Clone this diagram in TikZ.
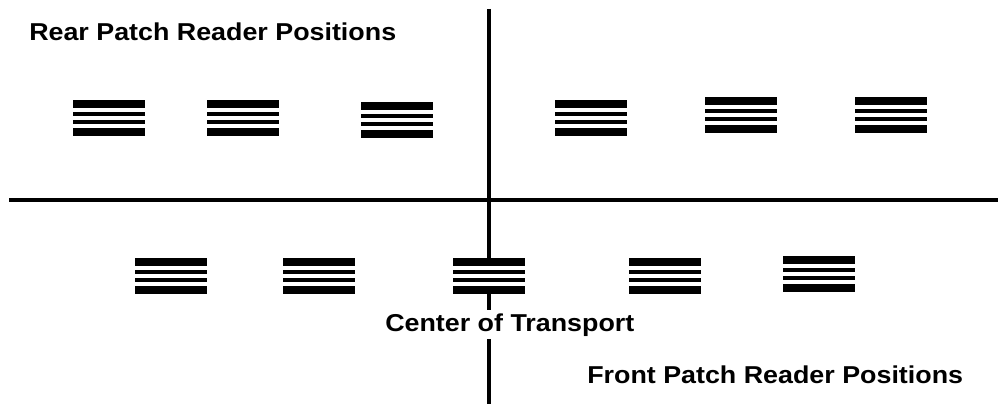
\documentclass[tikz,border=0pt]{standalone}
\usepackage{fontspec}
\newfontfamily\labfont[FakeStretch=1.1]{Liberation Sans}
\begin{document}
\begin{tikzpicture}[x=0.75pt,y=-0.75pt,
  axis/.style={line width=2.7pt,black},
  patch/.style={draw=none,fill=white,minimum width=54pt,minimum height=27pt,inner sep=0pt,outer sep=0pt,anchor=north west,
    path picture={
      \fill[black] (path picture bounding box.north west) rectangle ([yshift=-6pt]path picture bounding box.north east);
      \fill[black] ([yshift=-9pt]path picture bounding box.north west) rectangle ([yshift=-12pt]path picture bounding box.north east);
      \fill[black] ([yshift=-15pt]path picture bounding box.north west) rectangle ([yshift=-18pt]path picture bounding box.north east);
      \fill[black] ([yshift=-21pt]path picture bounding box.north west) rectangle (path picture bounding box.south east);
    }},
  lab/.style={anchor=base west,inner xsep=0pt,inner ysep=2.5pt,font=\labfont\bfseries\fontsize{18.3pt}{20pt}\selectfont}]
\useasboundingbox (0,0) rectangle (998,406);
\coordinate (vtop) at (489,9);
\coordinate (vbot) at (489,404);
\coordinate (hleft) at (9,200);
\coordinate (hright) at (998,200);
\draw[axis] (vtop) -- (vbot);
\draw[axis] (hleft) -- (hright);
% rear patches
\node[patch] (r1) at (73,100) {};
\node[patch] (r2) at (207,100) {};
\node[patch] (r3) at (361,102) {};
\node[patch] (r4) at (555,100) {};
\node[patch] (r5) at (705,97) {};
\node[patch] (r6) at (855,97) {};
% front patches
\node[patch] (f1) at (135,258) {};
\node[patch] (f2) at (283,258) {};
\node[patch] (f3) at (453,258) {};
\node[patch] (f4) at (629,258) {};
\node[patch] (f5) at (783,256) {};
% labels
\node[lab] (rear) at (29,41) {Rear Patch Reader Positions};
\node[lab,fill=white] (center) at (385,331) {Center of Transport};
\node[lab] (front) at (587,383) {Front Patch Reader Positions};
\end{tikzpicture}
\end{document}
